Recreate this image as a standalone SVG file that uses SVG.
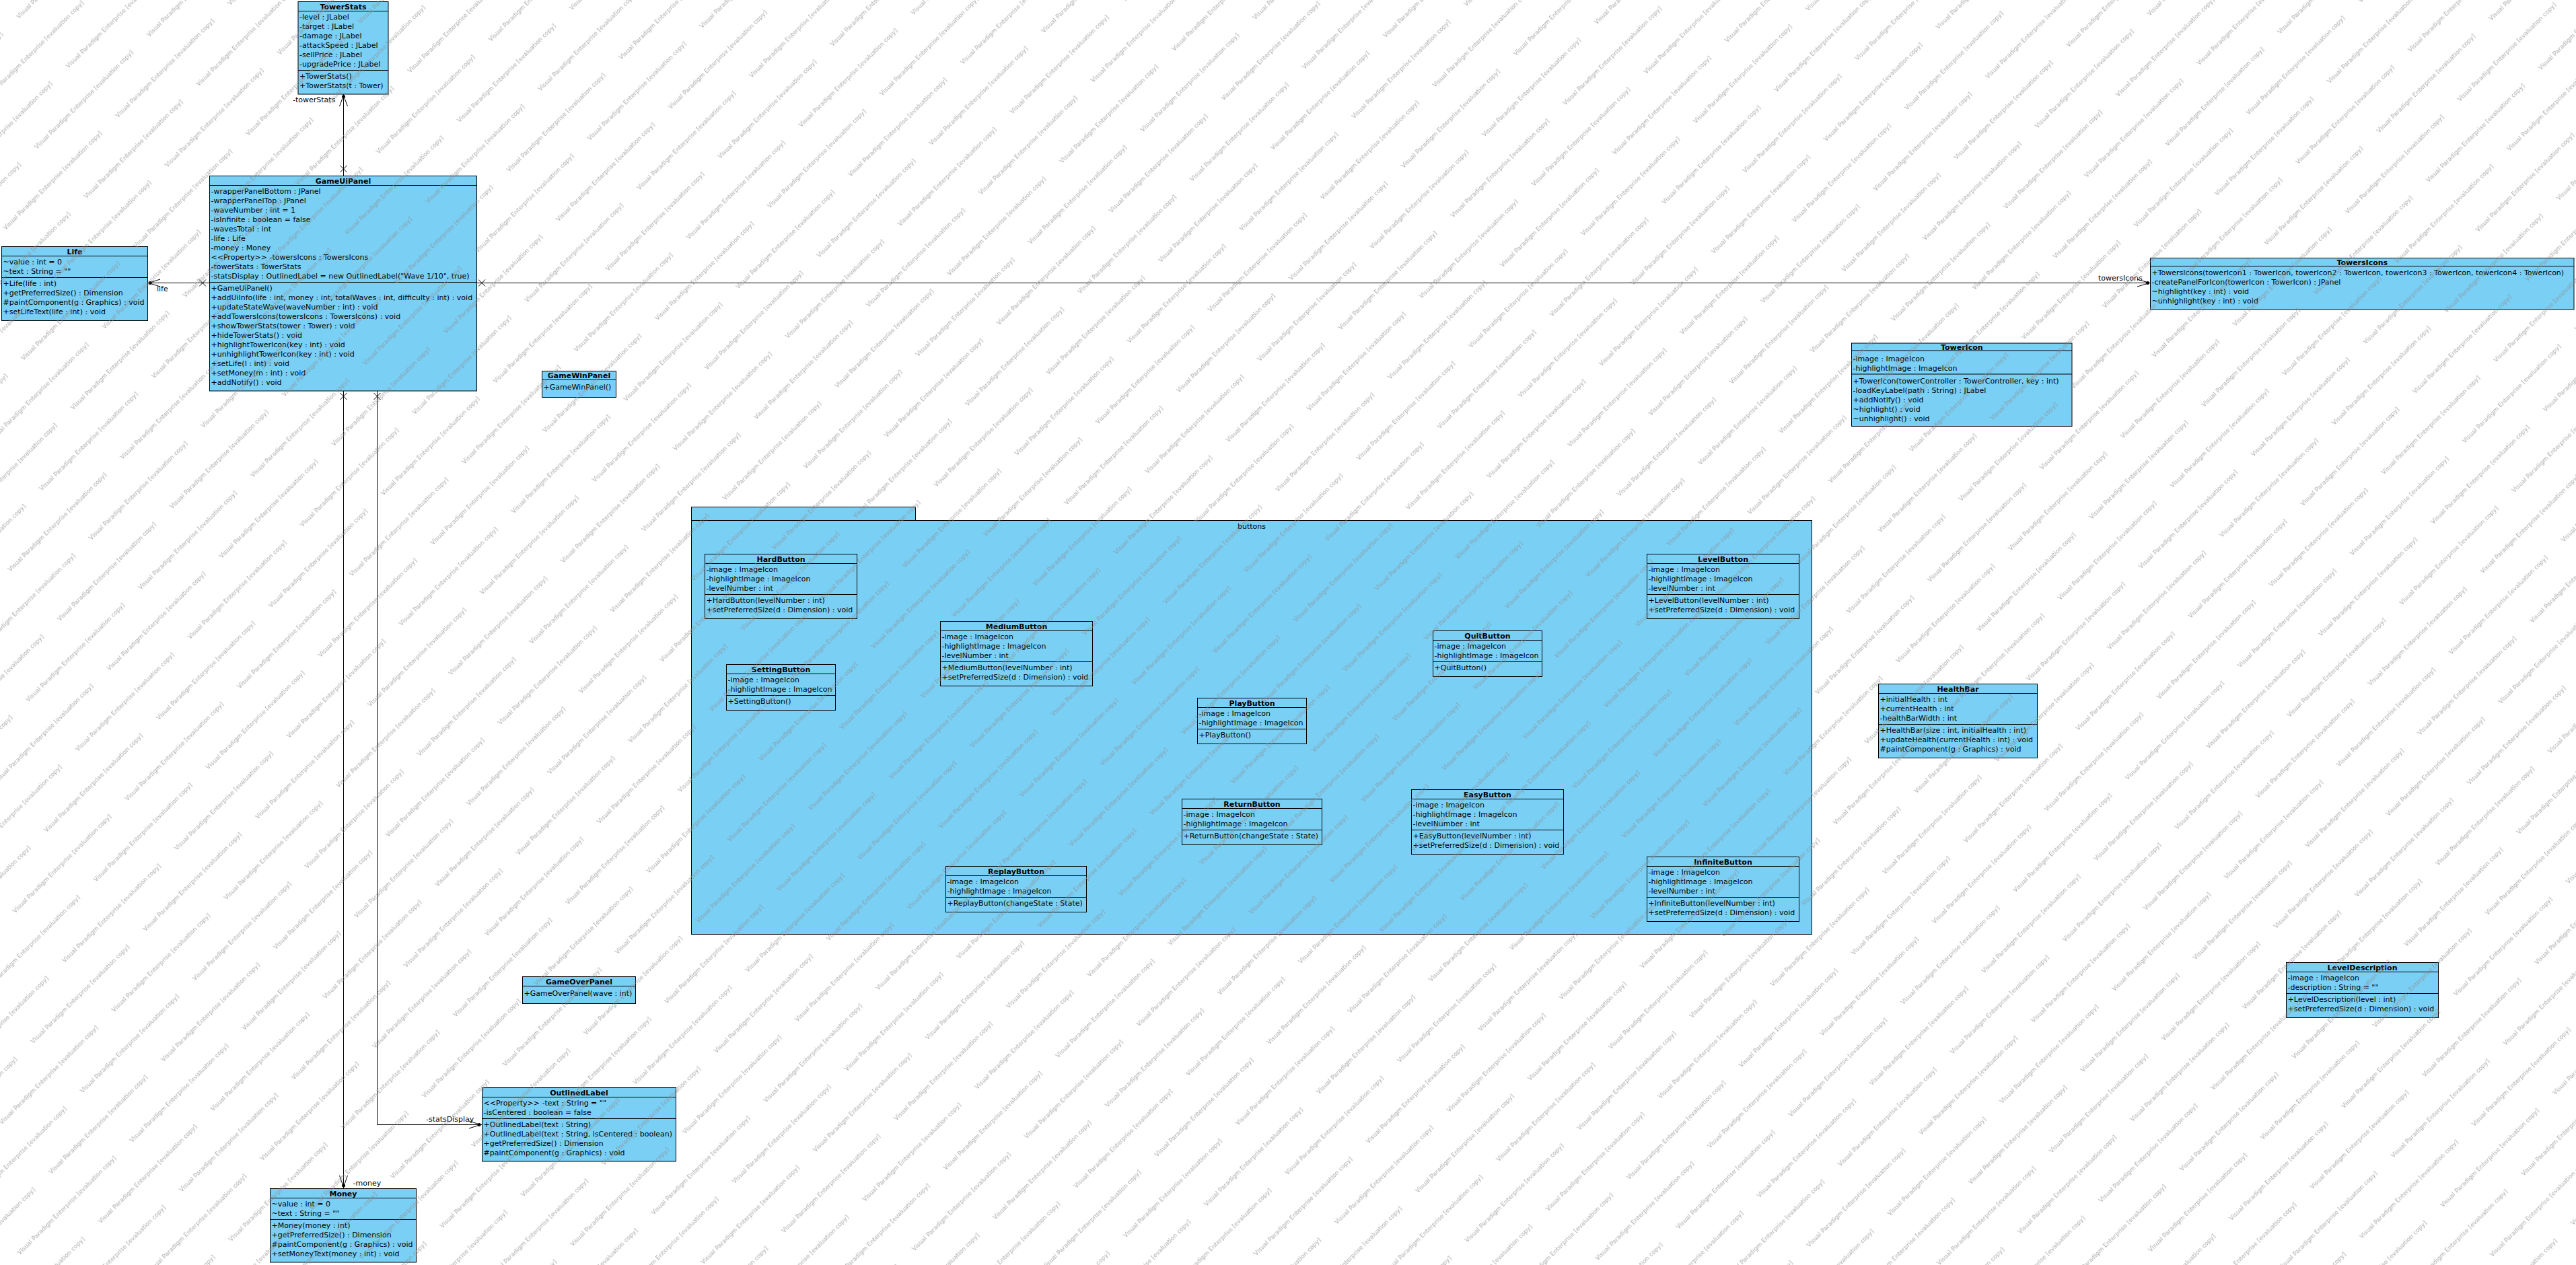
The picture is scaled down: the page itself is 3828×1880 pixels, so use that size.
<svg xmlns="http://www.w3.org/2000/svg" width="3828" height="1880" viewBox="0 0 3828 1880">
<style>
.box{fill:#7ACFF5;stroke:#000;stroke-width:1}
.ln{stroke:#000;stroke-width:1;fill:none}
.dot{fill:#000}
text{font-family:"DejaVu Sans","Liberation Sans",sans-serif;font-size:11px;fill:#000}
.ti{font-weight:bold;text-anchor:middle}
.wm{font-size:9px;fill:#8c8c8c}
</style>
<defs>
<pattern id="wm" patternUnits="userSpaceOnUse" width="236" height="104" patternTransform="rotate(-45)">
<text class="wm" x="0" y="40">Visual Paradigm Enterprise [evaluation copy]</text>
<text class="wm" x="-118" y="92">Visual Paradigm Enterprise [evaluation copy]</text>
<text class="wm" x="118" y="92">Visual Paradigm Enterprise [evaluation copy]</text>
</pattern>
</defs>
<rect width="3828" height="1880" fill="#fff"/>

<g id="TowerStats" transform="translate(443,2.5)">
<rect class="box" width="134" height="137.5"/>
<path class="ln" d="M0 14H134M0 102H134"/>
<text class="ti" x="67" y="11">TowerStats</text>
<text x="2" y="26.5">-level : JLabel</text>
<text x="2" y="40.5">-target : JLabel</text>
<text x="2" y="54.5">-damage : JLabel</text>
<text x="2" y="68.5">-attackSpeed : JLabel</text>
<text x="2" y="82.5">-sellPrice : JLabel</text>
<text x="2" y="96.5">-upgradePrice : JLabel</text>
<text x="2" y="114.5">+TowerStats()</text>
<text x="2" y="128.5">+TowerStats(t : Tower)</text>
</g>

<g id="GameUiPanel" transform="translate(311.5,261.5)">
<rect class="box" width="397" height="319.5"/>
<path class="ln" d="M0 14H397M0 158H397"/>
<text class="ti" x="198.5" y="11">GameUiPanel</text>
<text x="2" y="26.5">-wrapperPanelBottom : JPanel</text>
<text x="2" y="40.5">-wrapperPanelTop : JPanel</text>
<text x="2" y="54.5">-waveNumber : int = 1</text>
<text x="2" y="68.5">-isInfinite : boolean = false</text>
<text x="2" y="82.5">-wavesTotal : int</text>
<text x="2" y="96.5">-life : Life</text>
<text x="2" y="110.5">-money : Money</text>
<text x="2" y="124.5">&lt;&lt;Property&gt;&gt; -towersIcons : TowersIcons</text>
<text x="2" y="138.5">-towerStats : TowerStats</text>
<text x="2" y="152.5">-statsDisplay : OutlinedLabel = new OutlinedLabel("Wave 1/10", true)</text>
<text x="2" y="170.5">+GameUiPanel()</text>
<text x="2" y="184.5">+addUiInfo(life : int, money : int, totalWaves : int, difficulty : int) : void</text>
<text x="2" y="198.5">+updateStateWave(waveNumber : int) : void</text>
<text x="2" y="212.5">+addTowersIcons(towersIcons : TowersIcons) : void</text>
<text x="2" y="226.5">+showTowerStats(tower : Tower) : void</text>
<text x="2" y="240.5">+hideTowerStats() : void</text>
<text x="2" y="254.5">+highlightTowerIcon(key : int) : void</text>
<text x="2" y="268.5">+unhighlightTowerIcon(key : int) : void</text>
<text x="2" y="282.5">+setLife(l : int) : void</text>
<text x="2" y="296.5">+setMoney(m : int) : void</text>
<text x="2" y="310.5">+addNotify() : void</text>
</g>

<g id="Life" transform="translate(2.5,366.5)">
<rect class="box" width="217" height="110"/>
<path class="ln" d="M0 14H217M0 46H217"/>
<text class="ti" x="108.5" y="11">Life</text>
<text x="2" y="26.5">~value : int = 0</text>
<text x="2" y="40.5">~text : String = ""</text>
<text x="2" y="58.5">+Life(life : int)</text>
<text x="2" y="72.5">+getPreferredSize() : Dimension</text>
<text x="2" y="86.5">#paintComponent(g : Graphics) : void</text>
<text x="2" y="100.5">+setLifeText(life : int) : void</text>
</g>

<g id="TowersIcons" transform="translate(3195.5,383.5)">
<rect class="box" width="629.5" height="76.5"/>
<path class="ln" d="M0 12H629.5"/>
<text class="ti" x="314.75" y="10">TowersIcons</text>
<text x="2" y="25.5">+TowersIcons(towerIcon1 : TowerIcon, towerIcon2 : TowerIcon, towerIcon3 : TowerIcon, towerIcon4 : TowerIcon)</text>
<text x="2" y="39.5">-createPanelForIcon(towerIcon : TowerIcon) : JPanel</text>
<text x="2" y="53.5">~highlight(key : int) : void</text>
<text x="2" y="67.5">~unhighlight(key : int) : void</text>
</g>

<g id="TowerIcon" transform="translate(2751.5,510)">
<rect class="box" width="327.5" height="123.5"/>
<path class="ln" d="M0 11H327.5M0 46H327.5"/>
<text class="ti" x="163.75" y="9.5">TowerIcon</text>
<text x="2" y="26.5">-image : ImageIcon</text>
<text x="2" y="40.5">-highlightImage : ImageIcon</text>
<text x="2" y="59.5">+TowerIcon(towerController : TowerController, key : int)</text>
<text x="2" y="73.5">-loadKeyLabel(path : String) : JLabel</text>
<text x="2" y="87.5">+addNotify() : void</text>
<text x="2" y="101.5">~highlight() : void</text>
<text x="2" y="115.5">~unhighlight() : void</text>
</g>

<g id="GameWinPanel" transform="translate(805.5,551.5)">
<rect class="box" width="110" height="39"/>
<path class="ln" d="M0 13H110"/>
<text class="ti" x="55" y="10.5">GameWinPanel</text>
<text x="2" y="27">+GameWinPanel()</text>
</g>

<g id="buttons">
<rect class="box" x="1027.5" y="753.5" width="333" height="20"/>
<rect class="box" x="1027.5" y="773.5" width="1665" height="615"/>
<text x="1860" y="785.5" text-anchor="middle">buttons</text>

<g id="HardButton" transform="translate(1047.5,823.5)">
<rect class="box" width="226" height="96"/>
<path class="ln" d="M0 14H226M0 60H226"/>
<text class="ti" x="113" y="11">HardButton</text>
<text x="2" y="26.5">-image : ImageIcon</text>
<text x="2" y="40.5">-highlightImage : ImageIcon</text>
<text x="2" y="54.5">-levelNumber : int</text>
<text x="2" y="72.5">+HardButton(levelNumber : int)</text>
<text x="2" y="86.5">+setPreferredSize(d : Dimension) : void</text>
</g>

<g id="SettingButton" transform="translate(1079.5,987.5)">
<rect class="box" width="162" height="68"/>
<path class="ln" d="M0 14H162M0 46H162"/>
<text class="ti" x="81" y="11">SettingButton</text>
<text x="2" y="26.5">-image : ImageIcon</text>
<text x="2" y="40.5">-highlightImage : ImageIcon</text>
<text x="2" y="58.5">+SettingButton()</text>
</g>

<g id="MediumButton" transform="translate(1397.5,923.5)">
<rect class="box" width="226" height="96"/>
<path class="ln" d="M0 14H226M0 60H226"/>
<text class="ti" x="113" y="11">MediumButton</text>
<text x="2" y="26.5">-image : ImageIcon</text>
<text x="2" y="40.5">-highlightImage : ImageIcon</text>
<text x="2" y="54.5">-levelNumber : int</text>
<text x="2" y="72.5">+MediumButton(levelNumber : int)</text>
<text x="2" y="86.5">+setPreferredSize(d : Dimension) : void</text>
</g>

<g id="PlayButton" transform="translate(1779.5,1037.5)">
<rect class="box" width="162" height="68"/>
<path class="ln" d="M0 14H162M0 46H162"/>
<text class="ti" x="81" y="11">PlayButton</text>
<text x="2" y="26.5">-image : ImageIcon</text>
<text x="2" y="40.5">-highlightImage : ImageIcon</text>
<text x="2" y="58.5">+PlayButton()</text>
</g>

<g id="ReturnButton" transform="translate(1756.5,1187.5)">
<rect class="box" width="208" height="68"/>
<path class="ln" d="M0 14H208M0 46H208"/>
<text class="ti" x="104" y="11">ReturnButton</text>
<text x="2" y="26.5">-image : ImageIcon</text>
<text x="2" y="40.5">-highlightImage : ImageIcon</text>
<text x="2" y="58.5">+ReturnButton(changeState : State)</text>
</g>

<g id="ReplayButton" transform="translate(1405.5,1287.5)">
<rect class="box" width="209" height="68"/>
<path class="ln" d="M0 14H209M0 46H209"/>
<text class="ti" x="104.5" y="11">ReplayButton</text>
<text x="2" y="26.5">-image : ImageIcon</text>
<text x="2" y="40.5">-highlightImage : ImageIcon</text>
<text x="2" y="58.5">+ReplayButton(changeState : State)</text>
</g>

<g id="QuitButton" transform="translate(2129.5,937.5)">
<rect class="box" width="162" height="68"/>
<path class="ln" d="M0 14H162M0 46H162"/>
<text class="ti" x="81" y="11">QuitButton</text>
<text x="2" y="26.5">-image : ImageIcon</text>
<text x="2" y="40.5">-highlightImage : ImageIcon</text>
<text x="2" y="58.5">+QuitButton()</text>
</g>

<g id="EasyButton" transform="translate(2097.5,1173.5)">
<rect class="box" width="226" height="96"/>
<path class="ln" d="M0 14H226M0 60H226"/>
<text class="ti" x="113" y="11">EasyButton</text>
<text x="2" y="26.5">-image : ImageIcon</text>
<text x="2" y="40.5">-highlightImage : ImageIcon</text>
<text x="2" y="54.5">-levelNumber : int</text>
<text x="2" y="72.5">+EasyButton(levelNumber : int)</text>
<text x="2" y="86.5">+setPreferredSize(d : Dimension) : void</text>
</g>

<g id="LevelButton" transform="translate(2447.5,823.5)">
<rect class="box" width="226" height="96"/>
<path class="ln" d="M0 14H226M0 60H226"/>
<text class="ti" x="113" y="11">LevelButton</text>
<text x="2" y="26.5">-image : ImageIcon</text>
<text x="2" y="40.5">-highlightImage : ImageIcon</text>
<text x="2" y="54.5">-levelNumber : int</text>
<text x="2" y="72.5">+LevelButton(levelNumber : int)</text>
<text x="2" y="86.5">+setPreferredSize(d : Dimension) : void</text>
</g>

<g id="InfiniteButton" transform="translate(2447.5,1273.5)">
<rect class="box" width="226" height="96"/>
<path class="ln" d="M0 14H226M0 60H226"/>
<text class="ti" x="113" y="11">InfiniteButton</text>
<text x="2" y="26.5">-image : ImageIcon</text>
<text x="2" y="40.5">-highlightImage : ImageIcon</text>
<text x="2" y="54.5">-levelNumber : int</text>
<text x="2" y="72.5">+InfiniteButton(levelNumber : int)</text>
<text x="2" y="86.5">+setPreferredSize(d : Dimension) : void</text>
</g>
</g>

<g id="HealthBar" transform="translate(2791.5,1016.5)">
<rect class="box" width="236" height="110"/>
<path class="ln" d="M0 14H236M0 60H236"/>
<text class="ti" x="118" y="11">HealthBar</text>
<text x="2" y="26.5">+initialHealth : int</text>
<text x="2" y="40.5">+currentHealth : int</text>
<text x="2" y="54.5">-healthBarWidth : int</text>
<text x="2" y="72.5">+HealthBar(size : int, initialHealth : int)</text>
<text x="2" y="86.5">+updateHealth(currentHealth : int) : void</text>
<text x="2" y="100.5">#paintComponent(g : Graphics) : void</text>
</g>

<g id="LevelDescription" transform="translate(3397.5,1430.5)">
<rect class="box" width="226" height="82"/>
<path class="ln" d="M0 14H226M0 46H226"/>
<text class="ti" x="113" y="11">LevelDescription</text>
<text x="2" y="26.5">-image : ImageIcon</text>
<text x="2" y="40.5">-description : String = ""</text>
<text x="2" y="58.5">+LevelDescription(level : int)</text>
<text x="2" y="72.5">+setPreferredSize(d : Dimension) : void</text>
</g>

<g id="GameOverPanel" transform="translate(776.5,1451.5)">
<rect class="box" width="168" height="40"/>
<path class="ln" d="M0 14H168"/>
<text class="ti" x="84" y="11">GameOverPanel</text>
<text x="2" y="28.5">+GameOverPanel(wave : int)</text>
</g>

<g id="OutlinedLabel" transform="translate(716.5,1616.5)">
<rect class="box" width="288" height="109.5"/>
<path class="ln" d="M0 14H288M0 46H288"/>
<text class="ti" x="144" y="11">OutlinedLabel</text>
<text x="2" y="26.5">&lt;&lt;Property&gt;&gt; -text : String = ""</text>
<text x="2" y="40.5">-isCentered : boolean = false</text>
<text x="2" y="58.5">+OutlinedLabel(text : String)</text>
<text x="2" y="72.5">+OutlinedLabel(text : String, isCentered : boolean)</text>
<text x="2" y="86.5">+getPreferredSize() : Dimension</text>
<text x="2" y="100.5">#paintComponent(g : Graphics) : void</text>
</g>

<g id="Money" transform="translate(401.5,1766.5)">
<rect class="box" width="217" height="109.5"/>
<path class="ln" d="M0 14H217M0 46H217"/>
<text class="ti" x="108.5" y="11">Money</text>
<text x="2" y="26.5">~value : int = 0</text>
<text x="2" y="40.5">~text : String = ""</text>
<text x="2" y="58.5">+Money(money : int)</text>
<text x="2" y="72.5">+getPreferredSize() : Dimension</text>
<text x="2" y="86.5">#paintComponent(g : Graphics) : void</text>
<text x="2" y="100.5">+setMoneyText(money : int) : void</text>
</g>

<g id="connectors">
<path class="ln" d="M510.5 140V261.5M504.5 158L510.5 142L516.5 158M505.5 246L515.5 256M515.5 246L505.5 256"/>
<circle class="dot" cx="510.5" cy="143.5" r="2.5"/>
<text x="435" y="152">-towerStats</text>

<path class="ln" d="M219.5 420.5H311.5M238 415L221 420.5L238 426M296 415.5L306 425.5M306 415.5L296 425.5"/>
<circle class="dot" cx="223" cy="420.5" r="2.5"/>
<text x="233" y="433">life</text>

<path class="ln" d="M708.5 420.5H3195.5M3176 415L3194 420.5L3176 426M711 415.5L721 425.5M721 415.5L711 425.5"/>
<circle class="dot" cx="3191.5" cy="420.5" r="2.5"/>
<text x="3118" y="416.5">towersIcons</text>

<path class="ln" d="M510.5 581V1766.5M504.5 1747L510.5 1764L516.5 1747M505.5 584L515.5 594M515.5 584L505.5 594"/>
<circle class="dot" cx="510.5" cy="1762" r="2.5"/>
<text x="524.5" y="1762">-money</text>

<path class="ln" d="M560.5 581V1671.5H716.5M697 1666L714 1671.5L697 1677M555.5 584L565.5 594M565.5 584L555.5 594"/>
<circle class="dot" cx="712" cy="1671.5" r="2.5"/>
<text x="633" y="1667">-statsDisplay</text>
</g>

<g id="watermark">
<rect width="3828" height="1880" fill="url(#wm)" opacity="0.75"/>
</g>
</svg>
